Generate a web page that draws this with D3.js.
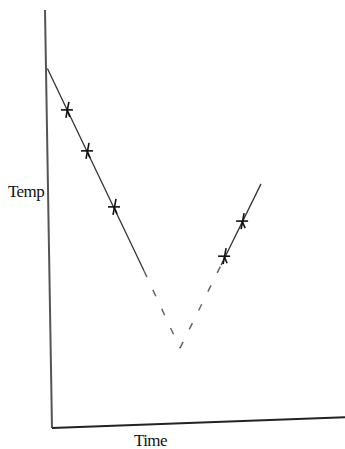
<!DOCTYPE html>
<meta charset="utf-8">
<style>
body { margin: 0; background: #fff; }
.axis { fill: none; stroke: #555; stroke-width: 2px; }
.line { fill: none; stroke: #333; stroke-width: 1.3px; }
.dash { fill: none; stroke: #666; stroke-width: 1.5px; stroke-dasharray: 7 14; }
.mark { stroke: #111; stroke-width: 1.6px; }
text { font-family: "Liberation Serif", serif; font-size: 17px; fill: #111; letter-spacing: -0.6px; }
</style>
<body>
<svg id="chart" width="345" height="449"></svg>
</body>
<script src="https://d3js.org/d3.v7.min.js"></script>
<script>

// sketch values (time, temp) on a 0..100 scale
var cooling = [[0.8, 86], [33, 37.6]];
var coolingDash = [[33, 37.6], [45, 19.1]];
var warmingDash = [[45, 19.1], [58.7, 39]];
var warming = [[58.7, 39], [72, 58.4]];
var marks = [[7.3, 76.1], [14, 66.3], [23, 52.9], [59.7, 41.1], [65.7, 49.5]];
var yAxisEnds = [[0, 100], [2.33, 0]];
var xAxisEnds = [[2.33, 0], [100, 2.6]];

var svg = d3.select("#chart");

var x = d3.scaleLinear().domain([0, 100]).range([45, 345]);
var y = d3.scaleLinear().domain([0, 100]).range([428, 10]);

var line = d3.line()
    .x(function(d) { return x(d[0]); })
    .y(function(d) { return y(d[1]); });

// hand drawn axes
svg.append("path").attr("class", "axis").attr("d", line(yAxisEnds));
svg.append("path").attr("class", "axis").style("stroke", "#222").attr("d", line(xAxisEnds));

svg.append("path").attr("class", "line").attr("d", line(cooling));
svg.append("path").attr("class", "dash").attr("d", line(coolingDash));
svg.append("path").attr("class", "dash").attr("d", line(warmingDash));
svg.append("path").attr("class", "line").attr("d", line(warming));

// cross marks
var m = svg.selectAll(".m").data(marks).enter().append("g")
    .attr("transform", function(d) { return "translate(" + x(d[0]) + "," + y(d[1]) + ")"; });
m.append("line").attr("class", "mark")
    .attr("x1", -6).attr("y1", 0).attr("x2", 6).attr("y2", 0);
m.append("line").attr("class", "mark")
    .attr("x1", 2).attr("y1", -8).attr("x2", -1).attr("y2", 8);
m.append("line").attr("class", "mark")
    .attr("x1", 0).attr("y1", 0).attr("x2", 3).attr("y2", 7);

svg.append("text").attr("x", 8).attr("y", 197).text("Temp");
svg.append("text").attr("x", 134).attr("y", 446).text("Time");

</script>
